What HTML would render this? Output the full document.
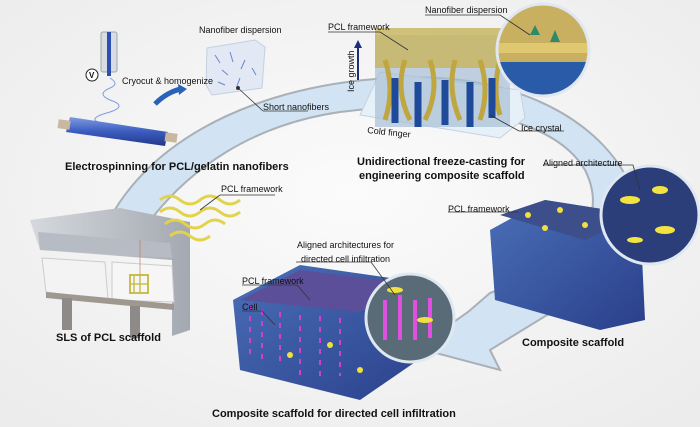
<!DOCTYPE html>
<html><head><meta charset="utf-8"><style>
html,body{margin:0;padding:0;background:#f3f3f3}
svg{display:block}
text{font-family:"Liberation Sans",Arial,sans-serif;fill:#111}
.b{font-weight:bold;font-size:11px}
.s{font-size:9px}
</style></head><body>
<svg width="700" height="427" viewBox="0 0 700 427" xmlns="http://www.w3.org/2000/svg">
<defs>
<radialGradient id="bg" cx="0.5" cy="0.45" r="0.7"><stop offset="0" stop-color="#fbfbfb"/><stop offset="1" stop-color="#ececec"/></radialGradient>
<linearGradient id="blue" x1="0" y1="0" x2="1" y2="1"><stop offset="0" stop-color="#4a6fb8"/><stop offset="1" stop-color="#2a3f8a"/></linearGradient>
<linearGradient id="roll" x1="0" y1="0" x2="0" y2="1"><stop offset="0" stop-color="#7f9be0"/><stop offset="0.5" stop-color="#3b5cc0"/><stop offset="1" stop-color="#23388a"/></linearGradient>
<linearGradient id="gray" x1="0" y1="0" x2="1" y2="0"><stop offset="0" stop-color="#d5d8dd"/><stop offset="1" stop-color="#a4a9b1"/></linearGradient>
<clipPath id="c1"><circle cx="543" cy="50" r="46"/></clipPath>
<clipPath id="c2"><circle cx="650" cy="215" r="49"/></clipPath>
<clipPath id="c3"><circle cx="410" cy="318" r="44"/></clipPath>
</defs>
<rect width="700" height="427" fill="url(#bg)"/>
<!-- big arc arrow -->
<path d="M110,218 C170,110 320,72 440,78 C590,88 665,190 630,260 C610,295 580,305 547,315 L490,350 L500,370 L417,348 L468,312 L490,293 C575,262 610,220 585,170 C550,110 430,100 340,112 C250,125 190,170 152,218 Z" fill="#d2e4f3" stroke="#a9b0b8" stroke-width="2"/>
<!-- needle -->
<rect x="101" y="32" width="16" height="40" fill="#d9dde3" stroke="#9aa" rx="2"/>
<rect x="107" y="32" width="4" height="44" fill="#2d4fb0"/>
<circle cx="92" cy="75" r="6" fill="#fff" stroke="#222"/><text x="89" y="78" style="font-size:8px;font-weight:bold">V</text>
<path d="M110,78 q10,6 0,10 q-14,6 0,12 q18,6 0,12 q-22,6 -12,10" fill="none" stroke="#7f9be0" stroke-width="1"/>
<!-- roller -->
<path d="M70,117 L168,132 L165,146 L66,132 Z" fill="url(#roll)"/>
<rect x="58" y="120" width="12" height="9" fill="#c9b8a0" transform="rotate(8 64 125)"/>
<rect x="165" y="133" width="12" height="9" fill="#c9b8a0" transform="rotate(8 171 138)"/>
<path d="M155,104 q12,-12 26,-15" fill="none" stroke="#2a62b8" stroke-width="5"/>
<path d="M178,84 l9,5 l-8,6z" fill="#2a62b8"/>
<!-- cube -->
<path d="M207,48 L255,40 L265,47 L262,88 L212,95 L206,85 Z" fill="#e2e9f5" stroke="#c4cfe0"/>
<path d="M215,55 l5,8 M230,52 l3,10 M245,60 l-4,9 M222,70 l6,5 M240,78 l-3,8 M252,68 l4,7 M218,82 l7,3" stroke="#6a86c8" stroke-width="1"/>
<!-- freeze cast block -->
<path d="M360,115 L500,138 L525,118 L520,90 L380,72 Z" fill="#e6f0f8" stroke="#c6d2de"/>
<rect x="375" y="35" width="135" height="92" fill="#a8bfd6" opacity="0.7"/>
<rect x="375" y="28" width="135" height="40" fill="#c8b664" opacity="0.85"/>
<path d="M385,60 q10,30 0,60 M405,60 q-10,30 5,60 M430,60 q10,30 -5,60 M455,60 q-8,30 5,60 M480,60 q10,30 0,60 M500,60 q-8,30 0,55" stroke="#c0a640" stroke-width="5" fill="none"/>
<path d="M395,78 v45 M418,82 v45 M445,80 v45 M470,82 v45 M492,78 v40" stroke="#1f4a9a" stroke-width="7"/>
<g clip-path="url(#c1)">
<rect x="495" y="0" width="100" height="100" fill="#c8b060"/>
<rect x="495" y="62" width="100" height="40" fill="#2a5ba8"/>
<path d="M495,48 h100" stroke="#e0c870" stroke-width="10"/>
<path d="M530,35 l5,-10 l5,10z M550,42 l5,-12 l5,12z" fill="#2f8a6a"/>
</g>
<circle cx="543" cy="50" r="46" fill="none" stroke="#dfe8f0" stroke-width="3"/>
<!-- SLS machine -->
<path d="M30,220 L120,208 L190,222 L190,330 L172,336 L172,260 L40,250 Z" fill="url(#gray)"/>
<path d="M38,232 L170,243 L172,258 L40,250 Z" fill="#b7bbc3"/>
<path d="M42,258 L105,262 L108,300 L46,292Z" fill="#f3f3f3" stroke="#ccc"/>
<path d="M112,262 L172,266 L174,302 L112,300Z" fill="#f6f6f6" stroke="#ccc"/>
<path d="M46,292 L174,304 L174,310 L46,298Z" fill="#9e9890"/>
<rect x="62" y="298" width="10" height="32" fill="#8d8a87"/><rect x="130" y="306" width="10" height="32" fill="#8d8a87"/>
<g stroke="#e1d34a" stroke-width="3" fill="none">
<path d="M160,200 q10,-8 20,0 q10,8 20,0 q10,-8 20,0 q10,8 20,0"/>
<path d="M160,212 q10,-8 20,0 q10,8 20,0 q10,-8 20,0 q10,8 20,0"/>
<path d="M165,224 q10,-8 20,0 q10,8 20,0 q10,-8 20,0"/>
<path d="M170,236 q10,-8 20,0 q10,8 20,0"/>
</g>
<rect x="130" y="275" width="18" height="18" fill="none" stroke="#c9bf50" stroke-width="2"/>
<path d="M134,275 v18 M140,275 v18 M130,284 h18" stroke="#c9bf50" stroke-width="1.5"/>
<line x1="140" y1="240" x2="140" y2="275" stroke="#c07050" stroke-width="0.6"/>
<!-- right composite scaffold -->
<path d="M490,230 L545,200 L640,215 L645,320 L600,330 L495,300 Z" fill="url(#blue)"/>
<path d="M500,215 L545,200 L640,215 L585,240 Z" fill="#3c4f8a"/>
<circle cx="528" cy="215" r="3" fill="#f0e040"/><circle cx="560" cy="210" r="3" fill="#f0e040"/><circle cx="585" cy="225" r="3" fill="#f0e040"/><circle cx="545" cy="228" r="3" fill="#f0e040"/>
<g clip-path="url(#c2)"><rect x="600" y="165" width="100" height="100" fill="#2b3e7a"/>
<ellipse cx="630" cy="200" rx="10" ry="4" fill="#f2e340"/><ellipse cx="660" cy="190" rx="8" ry="4" fill="#f2e340"/><ellipse cx="665" cy="230" rx="10" ry="4" fill="#f2e340"/><ellipse cx="635" cy="240" rx="8" ry="3" fill="#f2e340"/></g>
<circle cx="650" cy="215" r="49" fill="none" stroke="#dfe8f0" stroke-width="3"/>
<!-- bottom composite -->
<path d="M233,300 L300,265 L440,285 L440,345 L360,400 L240,370 Z" fill="url(#blue)"/>
<path d="M240,300 L300,270 L420,285 L360,312 Z" fill="#5b4f9a"/>
<path d="M250,305 v50 M262,310 v50 M280,312 v55 M300,315 v60 M320,316 v60 M340,318 v58" stroke="#d040d0" stroke-width="2" stroke-dasharray="5 6"/>
<circle cx="290" cy="355" r="3" fill="#f0e040"/><circle cx="330" cy="345" r="3" fill="#f0e040"/><circle cx="360" cy="370" r="3" fill="#f0e040"/>
<g clip-path="url(#c3)"><rect x="360" y="270" width="100" height="100" fill="#5a6b78"/>
<path d="M385,300 v40 M400,295 v45 M415,300 v40 M430,298 v40" stroke="#e050e0" stroke-width="4"/>
<ellipse cx="395" cy="290" rx="8" ry="3" fill="#f0e040"/><ellipse cx="425" cy="320" rx="8" ry="3" fill="#f0e040"/></g>
<circle cx="410" cy="318" r="44" fill="none" stroke="#dfe8f0" stroke-width="3"/>
<!-- leader lines -->
<g fill="none" stroke="#333" stroke-width="0.8">
<path d="M263,111 h45 M263,111 L238,88"/>
<path d="M220,195 h55 M220,195 L200,210"/>
<path d="M328,32 h52 L408,50"/>
<path d="M425,15 h75 L530,35"/>
<path d="M519,131 h45 M519,131 L490,115"/>
<path d="M543,165 h90 L640,190"/>
<path d="M448,212 h70"/>
<path d="M296,262 h75 L395,295"/>
<path d="M242,285 h55 L310,300"/>
<path d="M242,311 h20 L275,325"/>
</g>
<circle cx="238" cy="88" r="2" fill="#333"/>
<!-- ice growth -->
<path d="M358,80 V45" stroke="#1c2f7a" stroke-width="2"/><path d="M354,48 l4,-8 l4,8z" fill="#1c2f7a"/>
<text class="s" transform="translate(354,92) rotate(-90)">Ice growth</text>
<!-- texts -->
<text class="s" x="199" y="33">Nanofiber dispersion</text>
<text class="s" x="122" y="84">Cryocut &amp; homogenize</text>
<text class="s" x="263" y="110">Short nanofibers</text>
<text class="b" x="65" y="170">Electrospinning for PCL/gelatin nanofibers</text>
<text class="s" x="221" y="192">PCL framework</text>
<text class="s" x="328" y="30">PCL framework</text>
<text class="s" x="425" y="13">Nanofiber dispersion</text>
<text class="s" x="367" y="133" transform="rotate(6 367 133)">Cold finger</text>
<text class="s" x="521" y="131">Ice crystal</text>
<text class="b" x="357" y="165">Unidirectional freeze-casting for</text>
<text class="b" x="359" y="179">engineering composite scaffold</text>
<text class="s" x="543" y="166">Aligned architecture</text>
<text class="s" x="448" y="212">PCL framework</text>
<text class="s" x="297" y="248">Aligned architectures for</text>
<text class="s" x="301" y="262">directed cell infiltration</text>
<text class="s" x="242" y="284">PCL framework</text>
<text class="s" x="242" y="310">Cell</text>
<text class="b" x="56" y="341">SLS of PCL scaffold</text>
<text class="b" x="522" y="346">Composite scaffold</text>
<text class="b" x="212" y="417">Composite scaffold for directed cell infiltration</text>
</svg>
</body></html>
